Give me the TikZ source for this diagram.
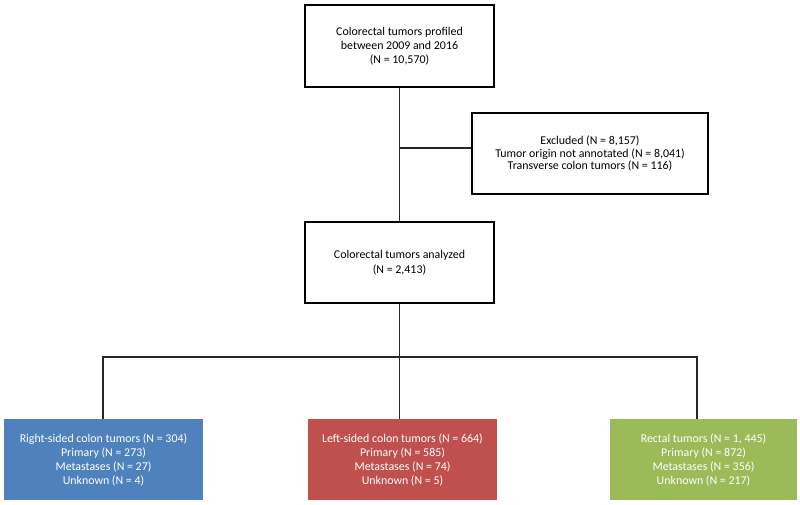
\documentclass[tikz,border=0pt]{standalone}
\usepackage{fontspec}
\setmainfont{Carlito}
\usetikzlibrary{calc}
\definecolor{cblue}{HTML}{4F81BD}
\definecolor{cred}{HTML}{C0504D}
\definecolor{cgreen}{HTML}{9BBB59}
\tikzset{
  wbox/.style={draw=black, line width=2.9pt, fill=white, align=center, inner sep=0pt, font=\fontsize{11.9}{14}\selectfont},
  cbox/.style={draw=none, text=white, align=center, inner sep=0pt, minimum height=81pt, font=\fontsize{11.9}{14}\selectfont},
  conn/.style={draw=black!85, line width=1.1pt}
}
\begin{document}
\begin{tikzpicture}[x=1pt,y=-1pt]
\useasboundingbox (0,0) rectangle (800,505);
\node[wbox, minimum width=189pt, minimum height=82pt] (top) at (399.5,46) {Colorectal tumors profiled\\between 2009 and 2016\\(N = 10,570)};
\node[wbox, minimum width=236pt, minimum height=81pt, font=\fontsize{11.9}{12.7}\selectfont] (excl) at (590,153.5) {Excluded (N = 8,157)\\Tumor origin not annotated (N = 8,041)\\Transverse colon tumors (N = 116)};
\node[wbox, minimum width=189pt, minimum height=81pt, font=\fontsize{11.9}{15.5}\selectfont] (mid) at (399.5,262.5) {Colorectal tumors analyzed\\(N = 2,413)};
\node[cbox, fill=cblue, minimum width=199pt] (blue) at (103.5,459.5) {Right-sided colon tumors (N = 304)\\Primary (N = 273)\\Metastases (N = 27)\\Unknown (N = 4)};
\node[cbox, fill=cred, minimum width=189pt] (red) at (402.5,459.5) {Left-sided colon tumors (N = 664)\\Primary (N = 585)\\Metastases (N = 74)\\Unknown (N = 5)};
\node[cbox, fill=cgreen, minimum width=187pt] (green) at (703.5,459.5) {Rectal tumors (N = 1, 445)\\Primary (N = 872)\\Metastases (N = 356)\\Unknown (N = 217)};
\draw[conn] (top.south) -- (mid.north);
\draw[conn] (top.south |- 0,148) coordinate (ex) -- (excl.west |- ex);
\draw[conn] (mid.south) -- (mid.south |- 0,357) coordinate (j);
\draw[conn] (j) -| ([xshift=-0.5pt]blue.north);
\draw[conn] (j) -| ([xshift=-6.5pt]green.north);
\draw[conn] (j) -- (j |- red.north);
\end{tikzpicture}
\end{document}
